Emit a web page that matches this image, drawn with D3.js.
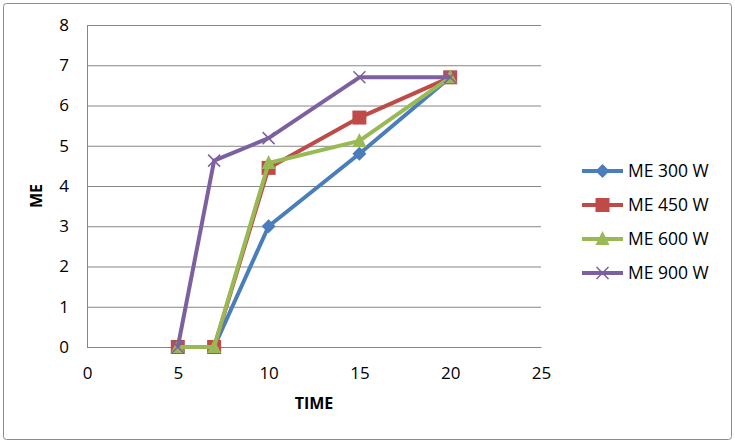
<!DOCTYPE html>
<html><head><meta charset="utf-8">
<script src="https://cdn.jsdelivr.net/npm/d3@7/dist/d3.min.js"></script>
<style>body{margin:0;background:#fff}</style>
</head><body>
<script>
const time = [5, 7, 10, 15, 20];
const me300 = [0, 0, 3.0, 4.8, 6.7];
const me450 = [0, 0, 4.45, 5.7, 6.7];
const me600 = [0, 0, 4.57, 5.12, 6.7];
const me900 = [0, 4.63, 5.19, 6.7, 6.7];
const seriesNames = ["ME 300 W", "ME 450 W", "ME 600 W", "ME 900 W"];
const xTicks = [0, 5, 10, 15, 20, 25];
const yTicks = [0, 1, 2, 3, 4, 5, 6, 7, 8];

const W = 735, H = 443;
const font = "'Open Sans', 'Liberation Sans', sans-serif";
const svg = d3.select("body").append("svg").attr("width", W).attr("height", H);
svg.append("rect").attr("x", 3.5).attr("y", 3.5).attr("width", W - 7).attr("height", H - 7)
  .attr("rx", 3).attr("fill", "#fff").attr("stroke", "#8c8c8c").attr("stroke-width", 1);

const x = d3.scaleLinear().domain([0, 25]).range([87, 541]);
const y = d3.scaleLinear().domain([0, 8]).range([347, 25]);

// gridlines
const gy = svg.append("g").attr("transform", "translate(87,0)")
  .call(d3.axisLeft(y).tickValues(yTicks).tickSize(-(541 - 87)).tickFormat(""));
gy.selectAll("line").attr("stroke", "#868686").attr("stroke-width", 1);
gy.select(".domain").attr("stroke", "#868686");

// y labels
const yl = svg.append("g").attr("transform", "translate(87,0)")
  .call(d3.axisLeft(y).tickValues(yTicks).tickSize(0).tickPadding(18));
yl.select(".domain").remove();
yl.selectAll("text").attr("font-family", font).attr("font-size", 17).attr("fill", "#000");

// x axis
const xa = svg.append("g").attr("transform", "translate(0,347)")
  .call(d3.axisBottom(x).tickValues(xTicks).tickSize(0).tickPadding(0));
xa.select(".domain").attr("stroke", "#868686");
xa.selectAll("text").attr("font-family", font).attr("font-size", 17).attr("fill", "#000")
  .attr("dy", null).attr("y", 32);

svg.append("text").attr("x", 314).attr("y", 409).attr("text-anchor", "middle")
  .attr("font-family", font).attr("font-weight", "bold").attr("font-size", 16).text("TIME");
svg.append("text").attr("transform", "translate(42,196) rotate(-90)").attr("text-anchor", "middle")
  .attr("font-family", font).attr("font-weight", "bold").attr("font-size", 16).text("ME");

const colors = ["#4A7EBB", "#BE4B48", "#98B954", "#7D60A0"];
const data = [me300, me450, me600, me900];
const line = d3.line().x((d, i) => x(time[i])).y(d => y(d));

function marker(g, k, cx, cy, c) {
  if (k === 0) {
    g.append("path").attr("d", `M${cx},${cy-7}L${cx+7},${cy}L${cx},${cy+7}L${cx-7},${cy}Z`).attr("fill", c);
  } else if (k === 1) {
    g.append("rect").attr("x", cx - 7).attr("y", cy - 7).attr("width", 14).attr("height", 14).attr("fill", c);
  } else if (k === 2) {
    g.append("path").attr("d", `M${cx},${cy-8}L${cx+7},${cy+6}L${cx-7},${cy+6}Z`).attr("fill", c);
  } else {
    g.append("path").attr("d", `M${cx-6},${cy-6}L${cx+6},${cy+6}M${cx-6},${cy+6}L${cx+6},${cy-6}`)
      .attr("stroke", c).attr("stroke-width", 1.5).attr("fill", "none");
  }
}

data.forEach((vals, k) => {
  const g = svg.append("g");
  g.append("path").datum(vals).attr("d", line).attr("fill", "none")
    .attr("stroke", colors[k]).attr("stroke-width", 4).attr("stroke-linejoin", "round");
  vals.forEach((v, i) => marker(g, k, x(time[i]), y(v), colors[k]));
});

// legend
const legY = [171, 205, 239, 273];
seriesNames.forEach((n, k) => {
  const g = svg.append("g");
  g.append("line").attr("x1", 582).attr("x2", 623).attr("y1", legY[k]).attr("y2", legY[k])
    .attr("stroke", colors[k]).attr("stroke-width", 4);
  marker(g, k, 602.5, legY[k], colors[k]);
  g.append("text").attr("x", 628).attr("y", legY[k]).attr("dy", "0.35em")
    .attr("font-family", font).attr("font-size", 17.5).text(n);
});
</script>
</body></html>
